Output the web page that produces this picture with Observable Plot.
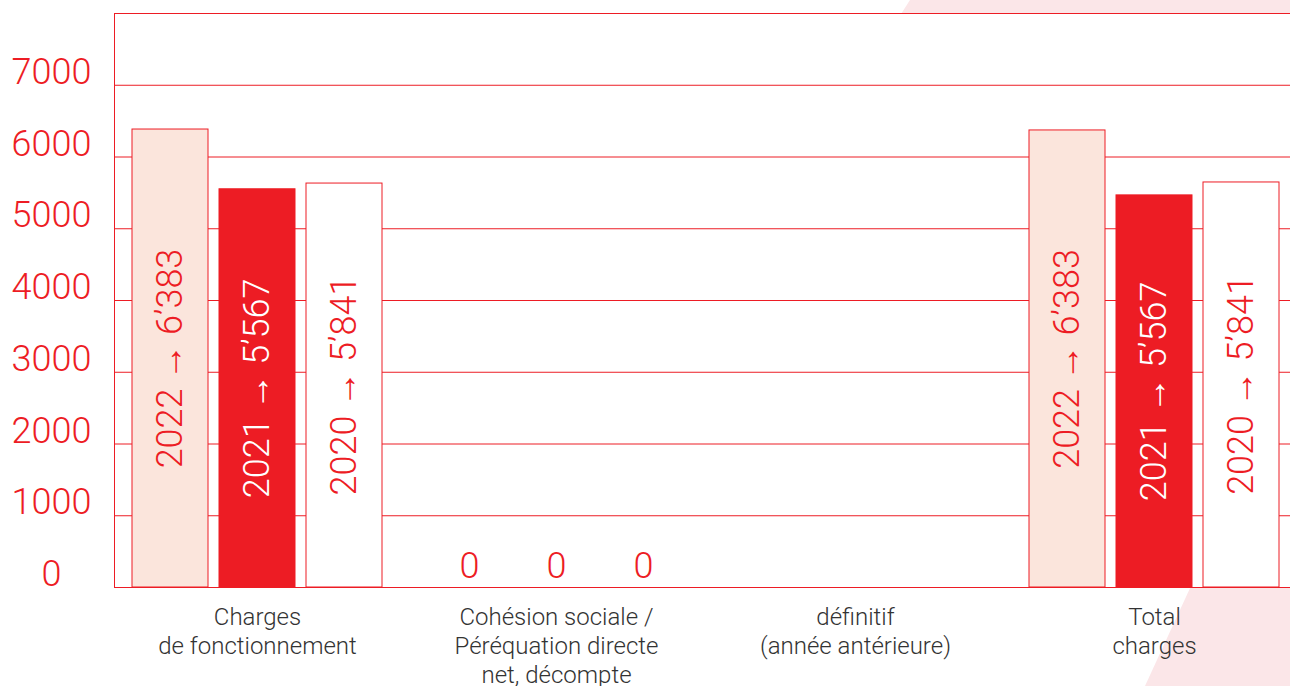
<!DOCTYPE html>
<html><head><meta charset="utf-8">
<script src="https://cdn.jsdelivr.net/npm/d3@7"></script>
<script src="https://cdn.jsdelivr.net/npm/@observablehq/plot@0.6"></script>
<style>
html,body{margin:0;padding:0;background:#fff;overflow:hidden;width:1290px;height:686px;}
#wrap{position:relative;width:1290px;height:686px;overflow:hidden;}
.deco{position:absolute;left:0;top:0;width:1290px;height:686px;background:#fbe6e8;}
#d1{clip-path:polygon(910px 0,1290px 0,1290px 14px,901px 14px);}
#d2{clip-path:polygon(1191px 586px,1290px 586px,1290px 686px,1145px 686px);}
#chart{position:absolute;left:0;top:0;}
</style></head>
<body><div id="wrap"><div class="deco" id="d1"></div><div class="deco" id="d2"></div><div id="chart"></div></div>
<script>
const categories = [
  "Charges\nde fonctionnement",
  "Cohésion sociale /\nPéréquation directe\nnet, décompte",
  "définitif\n(année antérieure)",
  "Total\ncharges"
];
const years = ["2022", "2021", "2020"];
const chargesValues = [6383, 5550, 5630];
const cohesionValues = [0, 0, 0];
const totalValues = [6370, 5465, 5645];
const valueLabels = ["2022 → 6’383", "2021 → 5’567", "2020 → 5’841"];
const yTicks = [0, 1000, 2000, 3000, 4000, 5000, 6000, 7000];
const gridTicks = [0, 1000, 2000, 3000, 4000, 5000, 6000, 7000, 8000];

const RED = "#ed1c24";
const PEACH = "#fbe5dc";
const GREY = "#333333";

const series = [[0, chargesValues], [1, cohesionValues], [3, totalValues]];
const rows = [];
for (const [ci, vals] of series) {
  years.forEach((y, i) => rows.push({cat: categories[ci], year: y, value: vals[i], label: valueLabels[i]}));
}
const nonzero = rows.filter(d => d.value > 0);
const zeros = rows.filter(d => d.value === 0);

const chart = Plot.plot({
  width: 1310,
  height: 686,
  marginLeft: 113,
  marginRight: 0,
  marginTop: 13,
  marginBottom: 99,
  style: {background: "transparent", maxWidth: "none", fontFamily: "Roboto, 'Liberation Sans', sans-serif", fontWeight: 300, overflow: "visible"},
  fx: {domain: categories, padding: 0, axis: null},
  x: {domain: years, paddingInner: 0.1314, paddingOuter: 0.276, align: 0.373, axis: null},
  y: {domain: [0, 8000], nice: false, axis: null},
  color: {domain: years, range: [PEACH, RED, "#ffffff"]},
  marks: [
    Plot.frame({fill: "white", stroke: null}),
    Plot.gridY(gridTicks, {stroke: RED, strokeOpacity: 1, strokeWidth: 1}),
    Plot.frame({anchor: "left", facetAnchor: "left", stroke: RED, strokeWidth: 1}),
    Plot.axisY(yTicks, {tickSize: 0, tickPadding: 63, textAnchor: "middle", fontSize: 36, fill: RED, dy: -13, tickFormat: d => String(d), fontWeight: 300, label: null}),
    Plot.barY(nonzero, {fx: "cat", x: "year", y: "value", fill: "year", stroke: RED, strokeWidth: 1}),
    Plot.text(nonzero.filter(d => d.year !== years[1]), {fx: "cat", x: "year", y: d => d.value / 2, text: "label", rotate: -90, fontSize: 36, fill: RED, fontWeight: 300}),
    Plot.text(nonzero.filter(d => d.year === years[1]), {fx: "cat", x: "year", y: d => d.value / 2, text: "label", rotate: -90, fontSize: 36, fill: "white", fontWeight: 300}),
    Plot.text(zeros, {fx: "cat", x: "year", y: "value", text: d => String(d.value), lineAnchor: "bottom", dy: -10, fontSize: 36, fill: RED, fontWeight: 300}),
    Plot.text(categories, {fx: d => d, x: () => years[1], y: () => 0, text: d => d, lineAnchor: "top", dy: 17, fontSize: 24, lineHeight: 1.21, fill: GREY, fontWeight: 300})
  ]
});
document.getElementById("chart").appendChild(chart);
</script>
</body></html>
